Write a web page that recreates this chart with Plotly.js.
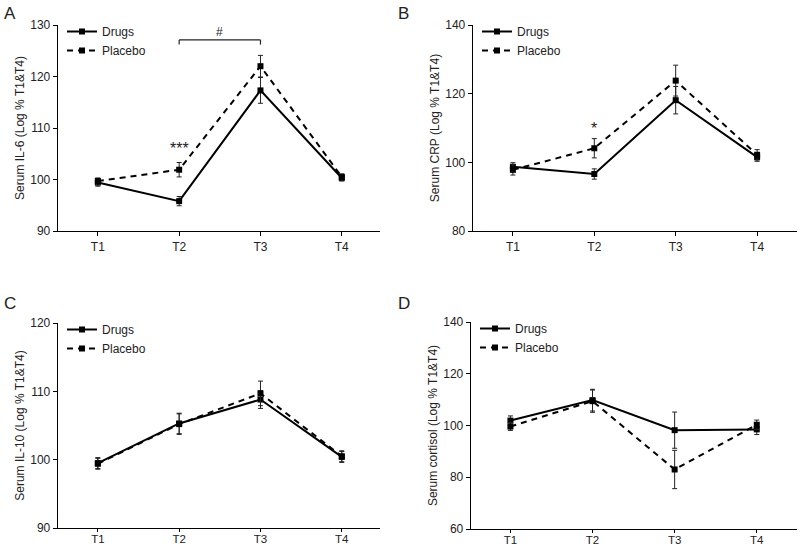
<!DOCTYPE html>
<html>
<head>
<meta charset="utf-8">
<script src="https://cdn.plot.ly/plotly-3.0.1.min.js"></script>
<style>html,body{margin:0;padding:0;background:#fff;}#chart{width:800px;height:549px;}</style>
</head>
<body>
<div id="chart"></div>
<script>
// ---- data ----
const timepoints = ['T1', 'T2', 'T3', 'T4'];

const il6Drugs = [99.4, 95.8, 117.3, 100.3];
const il6DrugsErr = [0.7, 0.9, 2.5, 0.6];
const il6Placebo = [99.7, 101.9, 122.0, 100.5];
const il6PlaceboErr = [0.6, 1.4, 2.1, 0.6];

const crpDrugs = [98.7, 96.6, 118.1, 101.5];
const crpDrugsErr = [1.2, 1.5, 4.0, 1.2];
const crpPlacebo = [97.8, 104.1, 123.8, 102.2];
const crpPlaceboErr = [1.5, 2.8, 4.5, 1.5];

const il10Drugs = [99.5, 105.3, 108.8, 100.4];
const il10DrugsErr = [0.8, 1.5, 1.3, 0.8];
const il10Placebo = [99.4, 105.2, 109.7, 100.5];
const il10PlaceboErr = [0.8, 1.5, 1.8, 0.8];

const cortDrugs = [101.9, 109.8, 98.2, 98.5];
const cortDrugsErr = [1.8, 4.2, 7.0, 2.0];
const cortPlacebo = [99.6, 109.4, 83.0, 100.3];
const cortPlaceboErr = [1.5, 4.3, 7.4, 1.8];

const yTitles = ['Serum IL-6 (Log % T1&T4)', 'Serum CRP (Log % T1&T4)',
                 'Serum IL-10 (Log % T1&T4)', 'Serum cortisol (Log % T1&T4)'];
const yRanges = [[90, 130], [80, 140], [90, 120], [60, 140]];
const yTicks = [[90, 100, 110, 120, 130], [80, 100, 120, 140], [90, 100, 110, 120], [60, 80, 100, 120, 140]];
const panelLetters = ['A', 'B', 'C', 'D'];

// ---- build ----
const FONT = 'Liberation Sans, Arial, sans-serif';
const xIdx = timepoints.map((_, i) => i);
const panels = [
  [il6Drugs, il6DrugsErr, il6Placebo, il6PlaceboErr],
  [crpDrugs, crpDrugsErr, crpPlacebo, crpPlaceboErr],
  [il10Drugs, il10DrugsErr, il10Placebo, il10PlaceboErr],
  [cortDrugs, cortDrugsErr, cortPlacebo, cortPlaceboErr]
];

const W = 800, H = 549;
// pixel boxes: [left, right, top, bottom]
const boxes = [[58, 380, 25, 231], [473, 797, 25, 231], [58, 380, 323, 528], [471, 797, 322, 529]];
const xRanges = [[-0.49, 3.47], [-0.49, 3.49], [-0.49, 3.47], [-0.48, 3.49]];

const traces = [];
const layout = {
  width: W, height: H,
  margin: {l: 0, r: 0, t: 0, b: 0},
  paper_bgcolor: '#fff', plot_bgcolor: '#fff',
  font: {family: FONT, size: 12, color: '#222'},
  annotations: [], shapes: []
};

panels.forEach((p, k) => {
  const n = k + 1;
  const xa = n === 1 ? 'x' : 'x' + n;
  const ya = n === 1 ? 'y' : 'y' + n;
  const lg = n === 1 ? 'legend' : 'legend' + n;
  const b = boxes[k];
  const bottomRow = k >= 2;
  traces.push({
    x: xIdx, y: p[0], xaxis: xa, yaxis: ya, legend: lg, name: 'Drugs',
    type: 'scatter', mode: 'lines+markers',
    line: {color: '#000', width: 2},
    marker: {symbol: 'square', size: 6, color: '#000'},
    error_y: {type: 'data', array: p[1], visible: true, color: '#222', thickness: 1, width: 2.5}
  });
  traces.push({
    x: xIdx, y: p[2], xaxis: xa, yaxis: ya, legend: lg, name: 'Placebo',
    type: 'scatter', mode: 'lines+markers',
    line: {color: '#000', width: 2, dash: '6px,5px'},
    marker: {symbol: 'square', size: 6, color: '#000'},
    error_y: {type: 'data', array: p[3], visible: true, color: '#222', thickness: 1, width: 2.5}
  });
  const xKey = n === 1 ? 'xaxis' : 'xaxis' + n;
  const yKey = n === 1 ? 'yaxis' : 'yaxis' + n;
  layout[xKey] = {
    domain: [b[0] / W, b[1] / W], anchor: ya, range: xRanges[k],
    tickvals: xIdx, ticktext: timepoints, ticks: 'outside', ticklen: bottomRow ? 3 : 4, tickwidth: 1, tickcolor: '#000',
    ticklabelstandoff: bottomRow ? -3 : 0,
    showline: true, linecolor: '#000', linewidth: 1.3, showgrid: false, zeroline: false,
    tickfont: {size: bottomRow ? 11.5 : 12, color: '#222'}, fixedrange: true
  };
  layout[yKey] = {
    domain: [1 - b[3] / H, 1 - b[2] / H], anchor: xa, range: yRanges[k],
    tickvals: yTicks[k], ticks: 'outside', ticklen: 4, tickwidth: 1, tickcolor: '#000',
    showline: true, linecolor: '#000', linewidth: 1.3, showgrid: false, zeroline: false,
    tickfont: {size: 12, color: '#222'},
    title: {text: yTitles[k], font: {size: 12, color: '#222'}}, fixedrange: true
  };
  layout[lg] = {
    x: (b[0] + 4) / W, y: 1 - (b[2] - 8) / H, xanchor: 'left', yanchor: 'top',
    bgcolor: 'rgba(0,0,0,0)', font: {size: 12, color: '#222'},
    itemwidth: 30, tracegroupgap: 0
  };
  layout.annotations.push({
    text: panelLetters[k], xref: 'paper', yref: 'paper',
    x: (k % 2 === 0 ? 2 : 396) / W, y: 1 - (k < 2 ? 2 : 292) / H,
    xanchor: 'left', yanchor: 'top', showarrow: false,
    font: {size: 17, color: '#222', family: FONT}
  });
});

// significance marks
layout.annotations.push({text: '***', xref: 'x', yref: 'y', x: 1, y: 106.1, showarrow: false, font: {size: 16, color: '#222'}});
layout.annotations.push({text: '#', xref: 'x', yref: 'y', x: 1.5, y: 128.6, showarrow: false, font: {size: 12, color: '#222'}});
layout.annotations.push({text: '*', xref: 'x2', yref: 'y2', x: 1, y: 109.8, showarrow: false, font: {size: 16, color: '#222'}});
const br = {type: 'line', xref: 'x', yref: 'y', line: {color: '#222', width: 1.2}};
layout.shapes.push(Object.assign({}, br, {x0: 1, x1: 2, y0: 127.1, y1: 127.1}));
layout.shapes.push(Object.assign({}, br, {x0: 1, x1: 1, y0: 127.1, y1: 126.2}));
layout.shapes.push(Object.assign({}, br, {x0: 2, x1: 2, y0: 127.1, y1: 126.2}));

Plotly.newPlot('chart', traces, layout, {staticPlot: true, displayModeBar: false});
</script>
</body>
</html>
